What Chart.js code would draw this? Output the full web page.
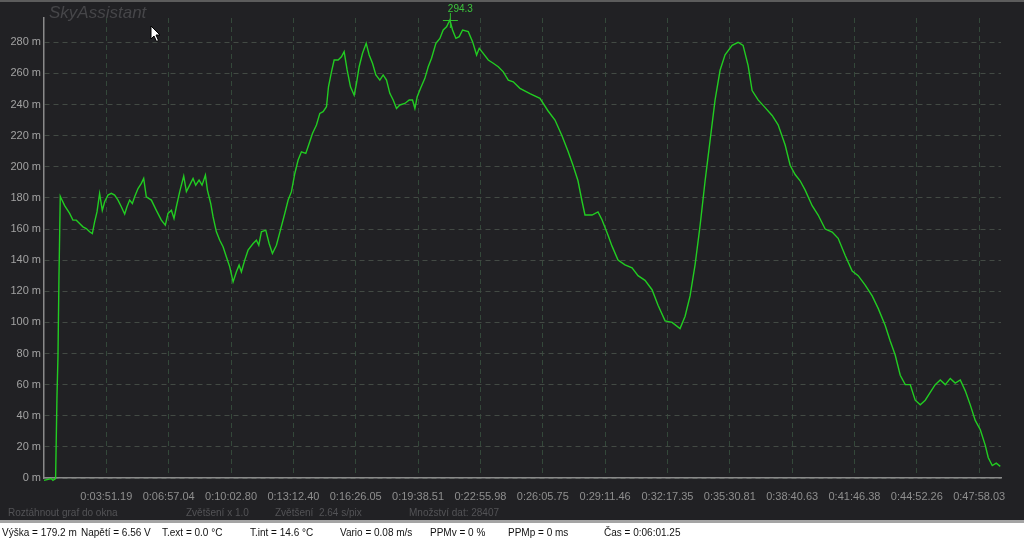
<!DOCTYPE html>
<html>
<head>
<meta charset="utf-8">
<script src="https://cdn.jsdelivr.net/npm/chart.js"></script>
<style>
html, body { margin: 0; padding: 0; width: 1024px; height: 560px; overflow: hidden; background: #fff; font-family: "Liberation Sans", Arial, sans-serif; }
#plot { position: absolute; left: 0; top: 0; width: 1024px; height: 520px; background: #212124; }
#topline { position: absolute; left: 0; top: 0; width: 1024px; height: 2px; background: #5c5c5c; }
#brand { position: absolute; left: 49px; top: 3px; font: italic 17px "Liberation Sans", Arial, sans-serif; color: #464649; }
.dim { position: absolute; top: 507px; font-size: 10px; color: #535356; white-space: nowrap; }
#sep { position: absolute; left: 0; top: 520px; width: 1024px; height: 3px; background: #a4a4a4; }
#status { position: absolute; left: 0; top: 523px; width: 1024px; height: 37px; background: #fff; }
.st { position: absolute; top: 4px; font-size: 10px; color: #111; white-space: nowrap; }
#cursor { position: absolute; left: 150px; top: 25px; }
</style>
</head>
<body>
<div id="plot"><canvas id="altChart"></canvas></div>
<div id="topline"></div>
<div id="brand">SkyAssistant</div>
<svg id="cursor" width="12" height="18" viewBox="0 0 12 18"><path d="M1 1 L1 14 L4 11 L6.5 16.5 L8.5 15.5 L6 10 L10 10 Z" fill="#fff" stroke="#000" stroke-width="1"/></svg>
<div class="dim" style="left:8px">Roztáhnout graf do okna</div>
<div class="dim" style="left:186px">Zvětšení x 1.0</div>
<div class="dim" style="left:275px">Zvětšení&nbsp; 2.64 s/pix</div>
<div class="dim" style="left:409px">Množství dat: 28407</div>
<div id="sep"></div>
<div id="status">
  <div class="st" style="left:2px">Výška = 179.2 m</div>
  <div class="st" style="left:81px">Napětí = 6.56 V</div>
  <div class="st" style="left:162px">T.ext = 0.0 °C</div>
  <div class="st" style="left:250px">T.int = 14.6 °C</div>
  <div class="st" style="left:340px">Vario = 0.08 m/s</div>
  <div class="st" style="left:430px">PPMv = 0 %</div>
  <div class="st" style="left:508px">PPMp = 0 ms</div>
  <div class="st" style="left:604px">Čas = 0:06:01.25</div>
</div>
<script>
// pozice vzorku na ose x (v dílcích mřížky) a výška v metrech
const xPos = [
  0.00, 0.117, 0.143, 0.186, 0.208, 0.224, 0.240, 0.261, 0.277, 0.331,
  0.411, 0.464, 0.518, 0.571, 0.625, 0.678, 0.732, 0.775, 0.812, 0.850,
  0.892, 0.935, 0.973, 1.026, 1.080, 1.133, 1.187, 1.240, 1.294, 1.331,
  1.374, 1.417, 1.454, 1.508, 1.561, 1.599, 1.641, 1.722, 1.802, 1.882,
  1.946, 1.989, 2.043, 2.085, 2.123, 2.177, 2.241, 2.284, 2.337, 2.391,
  2.433, 2.487, 2.535, 2.589, 2.621, 2.674, 2.712, 2.765, 2.819, 2.872,
  2.926, 2.979, 3.033, 3.086, 3.129, 3.166, 3.220, 3.273, 3.354, 3.407,
  3.445, 3.487, 3.557, 3.611, 3.664, 3.728, 3.792, 3.862, 3.916, 3.969,
  4.023, 4.076, 4.129, 4.199, 4.253, 4.306, 4.370, 4.424, 4.477, 4.531,
  4.563, 4.611, 4.654, 4.718, 4.771, 4.814, 4.862, 4.916, 4.975, 5.012,
  5.055, 5.109, 5.168, 5.216, 5.269, 5.323, 5.387, 5.440, 5.494, 5.547,
  5.601, 5.654, 5.708, 5.788, 5.858, 5.911, 5.949, 5.986, 6.040, 6.109,
  6.163, 6.216, 6.286, 6.350, 6.403, 6.457, 6.510, 6.553, 6.607, 6.660,
  6.714, 6.805, 6.874, 6.939, 6.981, 7.045, 7.126, 7.206, 7.286, 7.367,
  7.447, 7.527, 7.634, 7.794, 7.955, 8.083, 8.196, 8.308, 8.405, 8.485,
  8.565, 8.629, 8.677, 8.790, 8.886, 8.950, 9.047, 9.111, 9.207, 9.319,
  9.432, 9.528, 9.640, 9.753, 9.849, 9.962, 10.074, 10.202, 10.283, 10.363,
  10.443, 10.523, 10.604, 10.684, 10.764, 10.844, 10.924, 11.037, 11.133, 11.213,
  11.294, 11.358, 11.454, 11.567, 11.679, 11.775, 11.888, 11.968, 12.048, 12.128,
  12.209, 12.321, 12.417, 12.530, 12.642, 12.738, 12.851, 12.963, 13.059, 13.172,
  13.284, 13.380, 13.493, 13.573, 13.653, 13.734, 13.814, 13.894, 13.974, 14.055,
  14.135, 14.215, 14.295, 14.376, 14.456, 14.536, 14.616, 14.697, 14.777, 14.857,
  14.937, 15.018, 15.098, 15.146, 15.210, 15.274, 15.338
];
const altitude = [
  -1.5, -0.4, -1.5, -0.4, 52, 78, 129, 181, 179.6, 175,
  170, 165.7, 165.7, 163.6, 161.4, 160.3, 158.2, 157, 164.6, 171,
  182.9, 172, 177.5, 181.8, 182.9, 181.8, 178.6, 174.3, 169.6, 174.3,
  178.6, 176.4, 180.7, 186, 189.3, 192.5, 180.7, 178.6, 172, 165.7,
  162.5, 170, 172, 166.8, 174.3, 184, 194, 184, 188.2, 192.5,
  188.2, 191.4, 188.2, 194.6, 185, 176.4, 167.8, 158.2, 152.8, 148.6,
  142, 135.7, 126, 132.5, 136.8, 132.5, 140, 146.4, 150.7, 152.8,
  149.6, 158.2, 159.3, 150.7, 144.3, 149.6, 159.3, 170, 178.6, 184,
  195.7, 204.3, 209.6, 208.6, 215, 221.4, 226.8, 234.3, 235.4, 238.6,
  251.4, 261, 268.6, 268.6, 270.7, 274, 262.2, 251.4, 246, 253.6,
  264.3, 272.9, 279.3, 271.8, 266.5, 259, 255.7, 259, 255.7, 247.2,
  242.9, 237.5, 239.7, 240.7, 242.9, 242.9, 237.5, 245, 250.4, 256.8,
  264.3, 269.7, 279.3, 282.5, 287.9, 290, 294.3, 287.9, 282.5, 283.6,
  287.9, 286.8, 280.4, 271.8, 276.1, 272.9, 268.6, 266.5, 264.3, 261,
  255.7, 254.6, 250.4, 247, 244, 236, 230, 220, 210, 201,
  191, 178, 169, 169, 171, 166, 156, 149, 140, 137,
  135, 130, 127, 121, 111, 101, 100, 96, 104, 117,
  137, 162, 191, 217, 243, 262, 272, 278, 280, 278,
  265, 249, 243, 238, 233, 227, 214, 201, 195, 191,
  185, 175, 169, 160, 158, 154, 143, 133, 130, 124,
  117, 109, 98, 88, 79, 66, 60, 60, 50, 47,
  50, 55, 60, 63, 60, 64, 61, 63, 56, 47,
  37, 31, 21, 13, 8, 9.5, 7.5
];
const timeLabels = [
  '0:03:51.19', '0:06:57.04', '0:10:02.80', '0:13:12.40', '0:16:26.05',
  '0:19:38.51', '0:22:55.98', '0:26:05.75', '0:29:11.46', '0:32:17.35',
  '0:35:30.81', '0:38:40.63', '0:41:46.38', '0:44:52.26', '0:47:58.03'
];
const yTicks = [0, 20, 40, 60, 80, 100, 120, 140, 160, 180, 200, 220, 240, 260, 280];

const points = xPos.map((x, i) => ({ x: x, y: altitude[i] }));

// značka maxima
const peakMarker = {
  id: 'peakMarker',
  afterDatasetsDraw(chart) {
    let best = 0;
    altitude.forEach((v, i) => { if (v > altitude[best]) best = i; });
    const px = chart.scales.x.getPixelForValue(xPos[best]);
    const py = chart.scales.y.getPixelForValue(altitude[best]);
    const ctx = chart.ctx;
    ctx.save();
    ctx.strokeStyle = '#2fbf2f';
    ctx.lineWidth = 1;
    ctx.beginPath();
    ctx.moveTo(px - 7, py + 0.5); ctx.lineTo(px + 8, py + 0.5);
    ctx.moveTo(px + 0.5, py - 7); ctx.lineTo(px + 0.5, py + 8);
    ctx.stroke();
    ctx.fillStyle = '#3cc43c';
    ctx.font = '10px "Liberation Sans", Arial, sans-serif';
    ctx.textBaseline = 'middle';
    ctx.fillText(altitude[best].toFixed(1), px - 2, py - 11);
    ctx.restore();
  }
};

new Chart(document.getElementById('altChart'), {
  type: 'line',
  data: {
    datasets: [{
      data: points,
      borderColor: '#22cc22',
      borderWidth: 1.4,
      pointRadius: 0,
      tension: 0,
      clip: false
    }]
  },
  options: {
    responsive: true,
    maintainAspectRatio: false,
    animation: false,
    layout: { padding: { top: 18, right: 23, left: 0, bottom: 0 } },
    plugins: { legend: { display: false }, tooltip: { enabled: false } },
    scales: {
      x: {
        type: 'linear',
        min: 0,
        max: 15.35,
        afterBuildTicks: s => { s.ticks = timeLabels.map((t, i) => ({ value: i + 1 })); },
        afterFit: s => { s.height = 42; },
        ticks: {
          color: '#8e8e8e',
          font: { family: '"Liberation Sans", Arial, sans-serif', size: 11 },
          padding: 12,
          maxRotation: 0,
          autoSkip: false,
          callback: (v) => timeLabels[Math.round(v) - 1] || ''
        },
        grid: { color: '#34483a', drawTicks: false, lineWidth: 1 },
        border: { color: '#8a8a8a', width: 1.5, dash: [5, 4] }
      },
      y: {
        min: 0,
        max: 295.6,
        afterBuildTicks: s => { s.ticks = yTicks.map(v => ({ value: v })); },
        afterFit: s => { s.width = 44; },
        ticks: {
          color: '#a2a2a2',
          font: { family: '"Liberation Sans", Arial, sans-serif', size: 11 },
          padding: 3,
          callback: v => v + ' m'
        },
        grid: { color: '#434a44', drawTicks: false, lineWidth: 1 },
        border: { color: '#8a8a8a', width: 1.5, dash: [5, 4] }
      }
    }
  },
  plugins: [peakMarker]
});
</script>
</body>
</html>
